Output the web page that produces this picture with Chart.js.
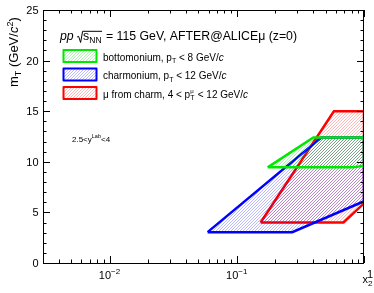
<!DOCTYPE html>
<html>
<head>
<meta charset="utf-8">
<script src="https://cdn.jsdelivr.net/npm/chart.js@4.4.1/dist/chart.umd.min.js"></script>
<style>
  html, body { margin: 0; padding: 0; background: #fff; }
  #wrap { width: 374px; height: 293px; }
</style>
</head>
<body>
<div id="wrap"><canvas id="chart" width="374" height="293"></canvas></div>
<script>
// acceptance regions in (x2, mT) plane, polygons closed on first point
const bottomX = [0.175, 0.40, 1.0, 1.0, 0.82, 0.175];
const bottomY = [9.45, 12.4, 12.4, 9.6, 9.45, 9.45];
const charmX = [0.059, 0.462, 1.0, 1.0, 0.273, 0.059];
const charmY = [3.05, 12.4, 12.4, 6.1, 3.05, 3.05];
const muonX = [0.154, 0.58, 1.0, 1.0, 0.69, 0.154];
const muonY = [4.0, 15.0, 15.0, 5.9, 4.0, 4.0];

const yTicks = [0, 5, 10, 15, 20, 25];
const xDecades = [0.01, 0.1, 1];
const xDecadeExp = ["-2", "-1", ""];

const FONT = "'Liberation Sans', Arial, sans-serif";

function hatch(color) {
  const c = document.createElement("canvas");
  c.width = 3; c.height = 3;
  const g = c.getContext("2d");
  g.strokeStyle = color;
  g.lineWidth = 0.8;
  g.beginPath();
  g.moveTo(-1, 4); g.lineTo(4, -1);
  g.moveTo(-1, 1); g.lineTo(1, -1);
  g.moveTo(2, 4); g.lineTo(4, 2);
  g.stroke();
  return g.createPattern(c, "repeat");
}

function toPoints(xs, ys) {
  return xs.map((x, i) => ({ x: x, y: ys[i] }));
}

// draws a run of text pieces: [text, size, dy, italic]
function rich(ctx, x, y, parts) {
  parts.forEach(p => {
    ctx.font = (p[3] ? "italic " : "") + p[1] + "px " + FONT;
    ctx.fillText(p[0], x, y + (p[2] || 0));
    x += ctx.measureText(p[0]).width;
  });
  return x;
}

function richWidth(ctx, parts) {
  let w = 0;
  parts.forEach(p => {
    ctx.font = (p[3] ? "italic " : "") + p[1] + "px " + FONT;
    w += ctx.measureText(p[0]).width;
  });
  return w;
}

const green = "#00e800", blue = "#0000ff", red = "#ff0000";
const greenHatch = hatch("rgba(0,220,0,0.4)");
const blueHatch = hatch("rgba(0,0,255,0.35)");
const redHatch = hatch("rgba(255,0,0,0.35)");

const decorations = {
  id: "decorations",
  afterDatasetsDraw(chart) {
    const ctx = chart.ctx;
    const a = chart.chartArea;
    const xs = chart.scales.x, ys = chart.scales.y;
    ctx.save();
    ctx.strokeStyle = "#000";
    ctx.fillStyle = "#000";
    ctx.lineWidth = 1;

    // frame
    ctx.strokeRect(a.left + 0.5, a.top + 0.5, a.right - a.left - 1, a.bottom - a.top);

    // y ticks (inside, both sides)
    ctx.beginPath();
    for (let v = 0; v <= 25; v++) {
      const py = Math.round(ys.getPixelForValue(v)) + 0.5;
      const len = v % 5 === 0 ? 7 : 3.5;
      ctx.moveTo(a.left, py); ctx.lineTo(a.left + len, py);
      ctx.moveTo(a.right, py); ctx.lineTo(a.right - len, py);
    }
    // x ticks on log axis
    const xMin = xs.min, xMax = xs.max;
    for (let e = -3; e <= 0; e++) {
      for (let m = 1; m <= 9; m++) {
        const v = m * Math.pow(10, e);
        if (v < xMin * 0.999 || v > xMax * 1.001) continue;
        const px = Math.round(xs.getPixelForValue(v)) + 0.5;
        const len = m === 1 ? 7 : 3.5;
        ctx.moveTo(px, a.bottom); ctx.lineTo(px, a.bottom - len);
        ctx.moveTo(px, a.top); ctx.lineTo(px, a.top + len);
      }
    }
    ctx.stroke();

    // y tick labels
    ctx.textAlign = "right";
    ctx.font = "11px " + FONT;
    yTicks.forEach(v => {
      ctx.fillText(String(v), 38.5, ys.getPixelForValue(v) + 4);
    });

    // x tick labels
    ctx.textAlign = "left";
    xDecades.forEach((v, i) => {
      const px = xs.getPixelForValue(v);
      if (xDecadeExp[i] === "") {
        rich(ctx, px + 3, 278, [["1", 11, 0]]);
        return;
      }
      const parts = [["10", 11, 0], ["\u2212" + xDecadeExp[i].slice(1), 8, -5]];
      const w = richWidth(ctx, parts);
      rich(ctx, px - w / 2, 279, parts);
    });

    // axis titles
    rich(ctx, 362.5, 283, [["x", 11, 0], ["2", 8, 3]]);

    ctx.save();
    ctx.translate(18, 87);
    ctx.rotate(-Math.PI / 2);
    rich(ctx, 0, 0, [["m", 13, 0], ["T", 9, 3], [" (GeV/", 13, 0], ["c", 13, 0, true], ["2", 9, -5], [")", 13, 0]]);
    ctx.restore();

    // header
    let x = rich(ctx, 60, 39.5, [["pp", 12.3, 0, true], [" ", 12.3, 0]]);
    ctx.beginPath();
    ctx.lineWidth = 1;
    ctx.moveTo(x, 37);
    ctx.lineTo(x + 1.5, 36.3);
    ctx.lineTo(x + 3.5, 42.5);
    ctx.lineTo(x + 5.5, 31.3);
    const sx = x + 6;
    x = rich(ctx, sx, 39.5, [["s", 12.3, 0], ["NN", 8.5, 3]]);
    ctx.lineTo(x + 0.5, 31.3);
    ctx.stroke();
    rich(ctx, x + 1, 39.5, [[" = 115 GeV, AFTER@ALICE\u03bc (z=0)", 12.3, 0]]);

    // legend
    const legend = [
      { hatch: greenHatch, color: green, y: 50, text: [["bottomonium, p", 10, 0], ["T", 7, 2.5], [" < 8 GeV/", 10, 0], ["c", 10, 0, true]] },
      { hatch: blueHatch, color: blue, y: 68.5, text: [["charmonium, p", 10, 0], ["T", 7, 2.5], [" < 12 GeV/", 10, 0], ["c", 10, 0, true]] },
      { hatch: redHatch, color: red, y: 87, text: [["\u03bc from charm, 4 < p", 10, 0]] }
    ];
    legend.forEach((l, i) => {
      ctx.fillStyle = "#fff";
      ctx.fillRect(63.5, l.y, 33, 12);
      ctx.fillStyle = l.hatch;
      ctx.fillRect(63.5, l.y, 33, 12);
      ctx.strokeStyle = l.color;
      ctx.lineWidth = 2;
      ctx.lineJoin = "round";
      ctx.strokeRect(63.5, l.y, 33, 12);
      ctx.fillStyle = "#000";
      const bx = rich(ctx, 103, l.y + 10.5, l.text);
      if (i === 2) {
        rich(ctx, bx, l.y + 10.5 - 5, [["\u03bc", 6, 0]]);
        const ex = rich(ctx, bx, l.y + 10.5 + 2.5, [["T", 7, 0]]);
        rich(ctx, ex + 0.5, l.y + 10.5, [[" < 12 GeV/", 10, 0], ["c", 10, 0, true]]);
      }
    });

    // rapidity range
    ctx.fillStyle = "#000";
    rich(ctx, 72, 142, [["2.5<y", 8, 0], ["Lab", 5.5, -4], ["<4", 8, 0]]);

    ctx.restore();
  }
};

new Chart(document.getElementById("chart"), {
  type: "line",
  data: {
    datasets: [
      { label: "bottomonium", data: toPoints(bottomX, bottomY), borderColor: green, backgroundColor: greenHatch },
      { label: "charmonium", data: toPoints(charmX, charmY), borderColor: blue, backgroundColor: blueHatch },
      { label: "mu from charm", data: toPoints(muonX, muonY), borderColor: red, backgroundColor: redHatch }
    ]
  },
  options: {
    responsive: false,
    animation: false,
    devicePixelRatio: 1,
    layout: { padding: { left: 43, top: 10, right: 10, bottom: 30 } },
    elements: {
      line: { fill: "shape", borderWidth: 2.5, tension: 0, borderJoinStyle: "miter" },
      point: { radius: 0, hoverRadius: 0 }
    },
    plugins: { legend: { display: false }, tooltip: { enabled: false } },
    scales: {
      x: { type: "logarithmic", min: 0.003, max: 1, display: false },
      y: { type: "linear", min: 0, max: 25, display: false }
    }
  },
  plugins: [decorations]
});
</script>
</body>
</html>
